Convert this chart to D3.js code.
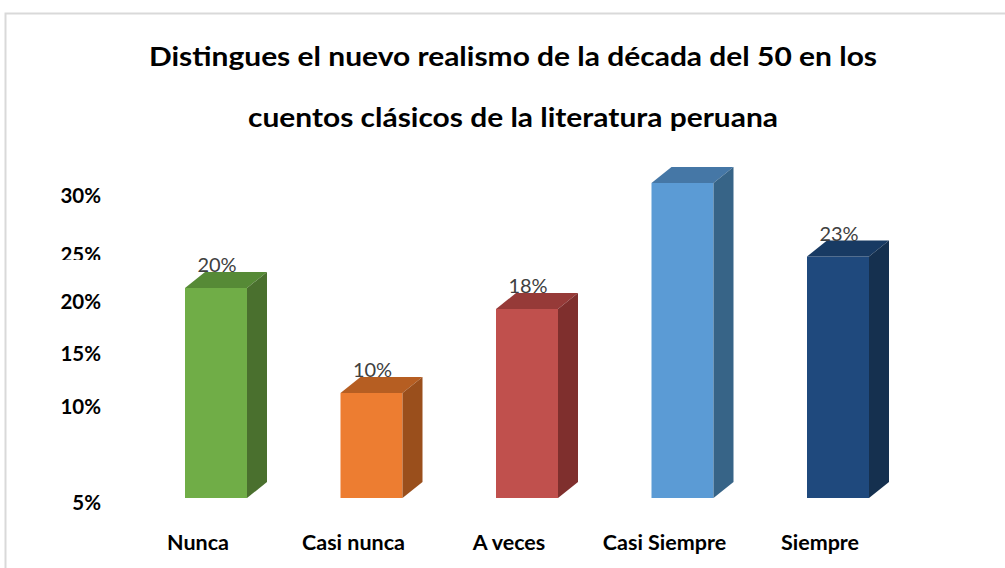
<!DOCTYPE html>
<html>
<head>
<meta charset="utf-8">
<script src="https://cdn.jsdelivr.net/npm/d3@7"></script>
<style>
  body { margin: 0; background: #fff; }
  svg { display: block; font-family: Lato, "Open Sans", sans-serif; }
</style>
</head>
<body>
<script>
// DATA
const categories = ["Nunca", "Casi nunca", "A veces", "Casi Siempre", "Siempre"];
const values = [20, 10, 18, 30, 23];
const valueLabels = ["20%", "10%", "18%", null, "23%"];
const tickValues = [30, 25, 20, 15, 10, 5];
const titleLines = ["Distingues el nuevo realismo de la década del 50 en los",
                    "cuentos clásicos de la literatura peruana"];
const frontColors = ["#70ad47", "#ed7d31", "#c0504d", "#5b9bd5", "#1f497d"];
const topColors   = ["#568a36", "#b65e22", "#963a38", "#4577a6", "#183a63"];
const sideColors  = ["#4a702e", "#9a4f1c", "#7f2f2d", "#376487", "#15304f"];

const svgwidth = 1005;
const svgheight = 568;
const barWidth = 62;
const depth = {x: 20, y: 16};

const svg = d3.select("body").append("svg")
    .attr("width", svgwidth)
    .attr("height", svgheight);

// chart border
svg.append("rect")
    .attr("x", 5.5).attr("y", 13.5)
    .attr("width", 1100).attr("height", 700)
    .attr("fill", "none")
    .attr("stroke", "#d9d9d9")
    .attr("stroke-width", 2);

// TITLE
const titleWidths = [728, 530];
svg.selectAll("text.title").data(titleLines).enter()
    .append("text").attr("class", "title")
    .attr("x", 513)
    .attr("y", (d, i) => 66 + i * 61)
    .attr("text-anchor", "middle")
    .attr("font-size", 27)
    .attr("font-weight", "bold")
    .attr("fill", "#000")
    .attr("textLength", (d, i) => titleWidths[i])
    .attr("lengthAdjust", "spacingAndGlyphs")
    .text(d => d);

// SCALES
const X = d3.scalePoint()
    .domain(categories)
    .range([216, 838]);
const Y = d3.scaleLinear()
    .domain([0, 30])
    .range([498, 183]);
// tick labels sit on their own (uneven) spacing in the original
const tickY = d3.scaleLinear()
    .domain([5, 10, 15, 20, 25, 30])
    .range([510, 414, 361, 309, 262, 203]);

// Y TICK LABELS
svg.append("clipPath").attr("id", "clip25")
    .append("rect").attr("x", 0).attr("y", 0).attr("width", 200).attr("height", 260);
svg.selectAll("text.tick").data(tickValues).enter()
    .append("text").attr("class", "tick")
    .attr("x", 101)
    .attr("y", d => tickY(d))
    .attr("text-anchor", "end")
    .attr("font-size", 20.5)
    .attr("font-weight", "bold")
    .attr("fill", "#000")
    .attr("clip-path", d => d === 25 ? "url(#clip25)" : null)
    .text(d => d + "%");

// BARS (3D look)
const bars = svg.selectAll("g.bar").data(categories).enter()
    .append("g").attr("class", "bar");

bars.append("rect")
    .attr("x", d => X(d) - barWidth / 2)
    .attr("y", (d, i) => Y(values[i]))
    .attr("width", barWidth)
    .attr("height", (d, i) => Y(0) - Y(values[i]))
    .attr("fill", (d, i) => frontColors[i]);

bars.append("path")
    .attr("d", (d, i) => {
        const x0 = X(d) - barWidth / 2, x1 = X(d) + barWidth / 2, yt = Y(values[i]);
        return `M${x0},${yt}L${x1},${yt}L${x1 + depth.x},${yt - depth.y}L${x0 + depth.x},${yt - depth.y}Z`;
    })
    .attr("fill", (d, i) => topColors[i]);

bars.append("path")
    .attr("d", (d, i) => {
        const x1 = X(d) + barWidth / 2, yt = Y(values[i]), yb = Y(0);
        return `M${x1},${yt}L${x1 + depth.x},${yt - depth.y}L${x1 + depth.x},${yb - depth.y}L${x1},${yb}Z`;
    })
    .attr("fill", (d, i) => sideColors[i]);

// DATA LABELS
bars.filter((d, i) => valueLabels[i] !== null)
    .append("text")
    .attr("x", d => X(d) + 1)
    .attr("y", d => Y(values[categories.indexOf(d)]) - 16)
    .attr("text-anchor", "middle")
    .attr("font-size", 20)
    .attr("fill", "#404040")
    .text(d => valueLabels[categories.indexOf(d)]);

// CATEGORY LABELS
svg.selectAll("text.cat").data(categories).enter()
    .append("text").attr("class", "cat")
    .attr("x", d => X(d) - 18)
    .attr("y", 550)
    .attr("text-anchor", "middle")
    .attr("font-size", 21.5)
    .attr("font-weight", "bold")
    .attr("fill", "#000")
    .text(d => d);
</script>
</body>
</html>
